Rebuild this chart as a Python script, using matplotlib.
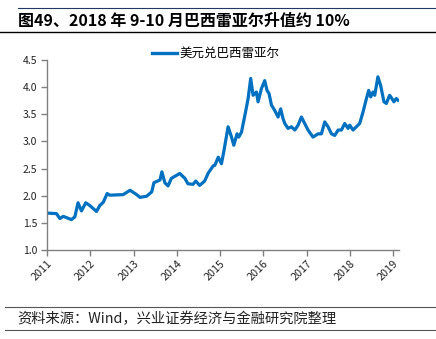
import matplotlib
matplotlib.use("Agg")
import matplotlib.pyplot as plt
import matplotlib.dates as mdates
from matplotlib.lines import Line2D
import pandas as pd

plt.rcParams['font.family'] = ['Noto Sans CJK SC', 'DejaVu Sans']

# USD/BRL, read at turning points
dates = [
    "2011-01-03", "2011-03-22", "2011-04-20", "2011-05-18", "2011-07-26", "2011-08-24",
    "2011-09-20", "2011-10-19", "2011-11-24", "2011-12-28", "2012-02-23", "2012-03-22",
    "2012-04-20", "2012-05-23", "2012-06-14", "2012-10-05", "2012-12-02", "2013-01-27",
    "2013-02-24", "2013-04-21", "2013-06-03", "2013-06-22", "2013-08-12", "2013-08-28",
    "2013-09-22", "2013-10-19", "2013-11-16", "2014-01-26", "2014-03-10", "2014-04-05",
    "2014-05-18", "2014-06-10", "2014-07-13", "2014-08-24", "2014-09-24", "2014-11-04",
    "2014-11-18", "2014-12-17", "2015-01-13", "2015-02-04", "2015-03-10", "2015-04-08",
    "2015-04-27", "2015-05-25", "2015-06-08", "2015-07-01", "2015-08-04", "2015-08-26",
    "2015-09-17", "2015-10-07", "2015-11-04", "2015-11-18", "2015-12-16", "2016-01-13",
    "2016-02-02", "2016-02-19", "2016-03-10", "2016-04-07", "2016-05-05", "2016-05-27",
    "2016-06-16", "2016-07-01", "2016-07-28", "2016-08-26", "2016-09-23", "2016-10-21",
    "2016-11-18", "2016-12-16", "2017-01-13", "2017-02-24", "2017-04-08", "2017-05-06",
    "2017-06-03", "2017-07-01", "2017-07-30", "2017-08-26", "2017-09-24", "2017-10-22",
    "2017-11-19", "2017-12-17", "2017-12-31", "2018-01-28", "2018-02-25", "2018-03-25",
    "2018-04-22", "2018-05-21", "2018-06-09", "2018-06-26", "2018-07-15", "2018-07-30",
    "2018-08-26", "2018-09-18", "2018-10-16", "2018-11-05", "2018-12-03", "2018-12-22",
    "2019-01-08", "2019-01-28", "2019-02-11",
]
usd_brl = [
    1.68, 1.67, 1.58, 1.62, 1.56, 1.61,
    1.87, 1.72, 1.87, 1.82, 1.71, 1.82,
    1.88, 2.04, 2.01, 2.02, 2.10, 2.02,
    1.97, 1.99, 2.07, 2.24, 2.29, 2.44,
    2.24, 2.18, 2.32, 2.41, 2.32, 2.22,
    2.21, 2.27, 2.19, 2.27, 2.42, 2.55,
    2.56, 2.71, 2.59, 2.84, 3.27, 3.08,
    2.93, 3.14, 3.08, 3.17, 3.54, 3.79,
    4.16, 3.85, 3.91, 3.73, 3.97, 4.12,
    3.94, 3.88, 3.67, 3.57, 3.45, 3.60,
    3.42, 3.33, 3.24, 3.27, 3.21, 3.30,
    3.45, 3.33, 3.21, 3.08, 3.14, 3.14,
    3.36, 3.27, 3.14, 3.11, 3.21, 3.21,
    3.33, 3.24, 3.30, 3.21, 3.27, 3.33,
    3.54, 3.79, 3.94, 3.82, 3.91, 3.85,
    4.19, 4.03, 3.73, 3.70, 3.85, 3.79,
    3.73, 3.79, 3.76,
]
series_name = "美元兑巴西雷亚尔"
title = "图49、2018 年 9-10 月巴西雷亚尔升值约 10%"
source = "资料来源：Wind，兴业证券经济与金融研究院整理"

W, H = 436, 339
fig = plt.figure(figsize=(W / 100, H / 100), dpi=100)
ax = fig.add_axes([47 / W, 1 - 250 / H, (399 - 47) / W, (250 - 60) / H])

x = pd.to_datetime(dates)
ax.plot(x, usd_brl, color="#0070C0", lw=2.3, solid_joinstyle="round")

ax.set_ylim(1.0, 4.5)
ax.set_yticks([1.0, 1.5, 2.0, 2.5, 3.0, 3.5, 4.0, 4.5])
ax.yaxis.set_major_formatter(plt.FormatStrFormatter("%.1f"))
ax.set_xlim(pd.Timestamp("2011-01-01"), pd.Timestamp("2019-02-20"))
ax.xaxis.set_major_locator(mdates.YearLocator())
ax.xaxis.set_major_formatter(mdates.DateFormatter("%Y"))

for s in ["top", "right"]:
    ax.spines[s].set_visible(False)
for s in ["left", "bottom"]:
    ax.spines[s].set_color("#808080")
    ax.spines[s].set_linewidth(1.0)
ax.tick_params(axis="both", colors="#808080", length=4, width=1.0, direction="out",
               labelcolor="#222222")
ax.tick_params(axis="y", labelsize=7.5, pad=3)
ax.tick_params(axis="x", labelsize=7.8, pad=2)
for lbl in ax.get_xticklabels():
    lbl.set_rotation(45)
    lbl.set_ha("right")
    lbl.set_rotation_mode("anchor")

leg = ax.legend([Line2D([], [], color="#0070C0", lw=2.4)], [series_name],
                loc="upper center", bbox_to_anchor=(216 / W, 1 - 47 / H),
                bbox_transform=fig.transFigure, frameon=False, fontsize=9,
                handlelength=2.0, handletextpad=0.2, borderaxespad=0, borderpad=0)

# header and footer rules
fig.add_artist(Line2D([18 / W, 1], [1 - 8 / H] * 2, color="#1F3864", lw=0.8))
fig.add_artist(Line2D([0, 1], [1 - 32 / H] * 2, color="black", lw=1.0))
fig.add_artist(Line2D([5 / W, 1], [1 - 307 / H] * 2, color="#555555", lw=0.8))
fig.add_artist(Line2D([5 / W, 1], [1 - 330 / H] * 2, color="#555555", lw=0.8))

fig.text(18 / W, 1 - 21 / H, title, fontsize=11.5, fontweight="bold",
         va="center", ha="left", color="black")
fig.text(17 / W, 1 - 319 / H, source, fontsize=10.3, va="center", ha="left",
         color="#222222")

fig.savefig("out.png", dpi=100)
